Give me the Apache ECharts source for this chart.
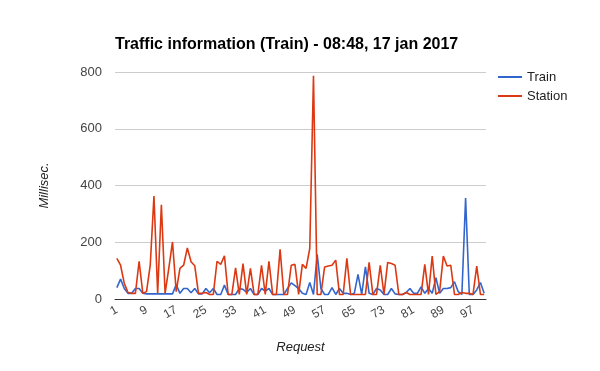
<!DOCTYPE html>
<html>
<head>
<meta charset="utf-8">
<script src="https://cdn.jsdelivr.net/npm/echarts@6/dist/echarts.min.js"></script>
<style>
html,body{margin:0;padding:0;background:#fff;}
#chart{width:600px;height:371px;}
</style>
</head>
<body>
<div id="chart"></div>
<script>
var categories = ["1","2","3","4","5","6","7","8","9","10","11","12","13","14","15","16","17","18","19","20",
"21","22","23","24","25","26","27","28","29","30","31","32","33","34","35","36","37","38","39","40",
"41","42","43","44","45","46","47","48","49","50","51","52","53","54","55","56","57","58","59","60",
"61","62","63","64","65","66","67","68","69","70","71","72","73","74","75","76","77","78","79","80",
"81","82","83","84","85","86","87","88","89","90","91","92","93","94","95","96","97","98","99","100"];

var train = [40,70,37,20,20,37,37,20,18,18,18,18,18,18,18,18,51,20,37,37,
22,37,18,18,37,22,37,16,16,49,16,16,16,37,34,23,37,16,16,37,
28,37,16,16,16,16,37,57,47,37,20,16,58,16,157,37,16,16,40,16,
37,20,20,16,20,87,16,113,20,16,37,32,16,16,37,18,16,16,23,37,
20,20,43,20,37,20,75,20,37,37,40,61,26,16,356,16,16,32,58,20];

var station = [143,119,55,23,20,20,133,20,26,119,363,20,332,20,108,201,26,108,119,180,
131,117,20,20,23,16,16,133,122,152,16,16,110,16,125,16,108,16,16,119,
16,133,16,16,175,16,16,119,122,16,122,108,178,787,16,16,113,116,119,137,
16,16,143,16,16,16,16,16,129,16,16,119,16,129,125,119,16,16,23,16,
16,16,16,122,16,151,16,26,151,116,119,16,16,23,20,20,16,116,16,16];

var yTicks = [0, 200, 400, 600, 800];

var chart = echarts.init(document.getElementById('chart'), null, {renderer: 'canvas'});
var font = "Arial, 'Liberation Sans', sans-serif";
chart.setOption({
  animation: false,
  backgroundColor: '#fff',
  color: ['#3366cc', '#dc3912'],
  textStyle: {fontFamily: font},
  title: {
    text: 'Traffic information (Train) - 08:48, 17 jan 2017',
    left: 115, top: 37, padding: 0,
    textStyle: {fontSize: 16, fontWeight: 'bold', color: '#000', fontFamily: font}
  },
  legend: {
    orient: 'vertical', left: 498, top: 70, padding: 0,
    icon: 'rect', itemWidth: 24, itemHeight: 2, itemGap: 5,
    textStyle: {fontSize: 13, color: '#222', fontFamily: font, lineHeight: 14},
    data: ['Train', 'Station']
  },
  grid: {left: 115, right: 114, top: 72, bottom: 72, containLabel: false},
  xAxis: {
    type: 'category', data: categories, boundaryGap: true,
    name: 'Request', nameLocation: 'middle', nameGap: 42,
    nameTextStyle: {fontStyle: 'italic', fontSize: 13, color: '#222', fontFamily: font},
    axisLine: {lineStyle: {color: '#333', width: 1}},
    axisTick: {show: false},
    axisLabel: {interval: 7, rotate: 30, fontSize: 12, color: '#444', fontFamily: font, margin: 10},
    splitLine: {show: false}
  },
  yAxis: {
    type: 'value', min: yTicks[0], max: yTicks[yTicks.length-1], interval: 200,
    name: 'Millisec.', nameLocation: 'middle', nameGap: 64, nameRotate: 90,
    nameTextStyle: {fontStyle: 'italic', fontSize: 13, color: '#222', fontFamily: font},
    axisLine: {show: false}, axisTick: {show: false},
    axisLabel: {fontSize: 13, color: '#444', fontFamily: font, margin: 13},
    splitLine: {lineStyle: {color: '#ccc', width: 1}}
  },
  series: [
    {name: 'Train', type: 'line', data: train, symbol: 'none', lineStyle: {width: 1.6}},
    {name: 'Station', type: 'line', data: station, symbol: 'none', lineStyle: {width: 1.6}}
  ]
});
</script>
</body>
</html>
